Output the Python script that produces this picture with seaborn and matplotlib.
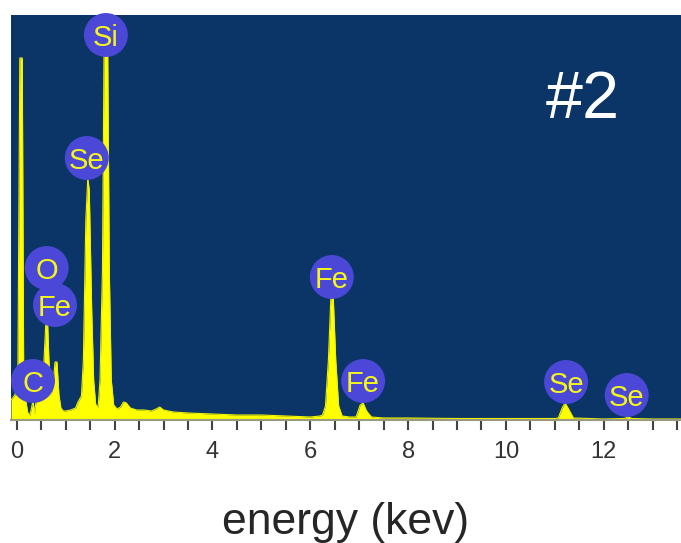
import matplotlib
matplotlib.use("Agg")
import matplotlib.pyplot as plt
import seaborn as sns
import pandas as pd

# EDX spectrum outline (energy in keV, counts in arbitrary units)
energy = [-0.12, -0.04, 0.02, 0.06, 0.11, 0.14, 0.18, 0.22, 0.26,
          0.30, 0.33, 0.36, 0.40, 0.45, 0.50, 0.55, 0.59, 0.63, 0.67, 0.70,
          0.74, 0.78, 0.82, 0.86, 0.90, 0.95, 1.00, 1.10, 1.20, 1.25, 1.32,
          1.36, 1.41, 1.45, 1.48, 1.53, 1.57, 1.61, 1.66,
          1.70, 1.75, 1.79, 1.85, 1.89, 1.93, 1.98, 2.05,
          2.12, 2.18, 2.24, 2.32, 2.45, 2.60, 2.75, 2.85, 2.92, 3.00, 3.20,
          3.50, 4.00, 4.50, 5.00, 5.50, 6.00, 6.20,
          6.25, 6.31, 6.37, 6.42, 6.47, 6.52, 6.58, 6.65, 6.80, 6.93,
          6.95, 7.02, 7.08, 7.15, 7.25, 7.50, 8.00, 9.00, 10.00, 11.00,
          11.07, 11.15, 11.21, 11.27, 11.38, 12.00, 12.42, 12.50, 12.58, 13.00, 13.60]
counts = [20, 25, 40, 362, 362, 40, 20, 8, 4,
          12, 20, 6, 22, 45, 40, 55, 95, 95, 40, 25,
          35, 58, 58, 25, 12, 9, 9, 10, 12, 18, 24,
          60, 200, 242, 230, 110, 40, 16, 12,
          40, 150, 420, 420, 150, 40, 15, 11,
          13, 18, 17, 12, 10, 10, 9, 11, 13, 10, 8,
          7, 6, 5, 5, 4, 3, 4,
          5, 14, 60, 122, 122, 60, 14, 4, 3, 3,
          5, 15, 17, 9, 3, 2, 2, 1.5, 1.5, 1.5,
          2, 12, 17, 12, 2, 1, 1.5, 3, 1.5, 1, 1]

# element markers
elements = ["Si", "Se", "O", "Fe", "C", "Fe", "Fe", "Se", "Se"]
label_energy = [1.82, 1.43, 0.61, 0.78, 0.33, 6.44, 7.08, 11.23, 12.47]
label_counts = [385, 262, 152, 115, 39, 143, 39, 38, 25]

xticks = [0, 2, 4, 6, 8, 10, 12]

spec = pd.DataFrame({"energy": energy, "counts": counts})
labels = pd.DataFrame({"element": elements, "energy": label_energy, "counts": label_counts})

sns.set_style("white")
plt.rcParams["font.family"] = ["Liberation Sans", "DejaVu Sans"]

fig = plt.figure(figsize=(6.81, 5.43), dpi=100)
ax = fig.add_axes([11 / 681, 1 - 420 / 543, 670 / 681, 405 / 543])
ax.set_facecolor("#0a3566")

ax.fill_between(spec["energy"], spec["counts"], 0, color="#ffff00", lw=0, zorder=2)
sns.lineplot(data=spec, x="energy", y="counts", color="#f2f200", lw=0.8, ax=ax, zorder=2)

sns.scatterplot(data=labels, x="energy", y="counts", s=1000, color="#4b48d8",
                edgecolor="none", ax=ax, zorder=4, clip_on=False)
for _, r in labels.iterrows():
    ax.text(r["energy"], r["counts"], r["element"], color="#f5f51e", fontsize=21,
            ha="center", va="center_baseline", zorder=5)

ax.text(0.854, 0.746, "#2", color="white", fontsize=48, ha="center", va="baseline",
        transform=ax.transAxes)

ax.set_xlim(-0.12, 13.58)
ax.set_ylim(0, 405)
ax.set_xticks(xticks)
ax.set_xticks([i * 0.5 for i in range(28)], minor=True)
ax.tick_params(axis="x", which="both", direction="out", length=7, width=1.5,
               color="#444444", bottom=True, labelsize=17, pad=8, labelcolor="#333333")
ax.set_yticks([])
ax.set_ylabel("")
ax.set_xlabel("energy (kev)", fontsize=32, labelpad=28)
for side in ["top", "left", "right"]:
    ax.spines[side].set_visible(False)
ax.spines["bottom"].set_color("#9a9a80")
ax.spines["bottom"].set_linewidth(1.5)

fig.savefig("out.png", dpi=100)
